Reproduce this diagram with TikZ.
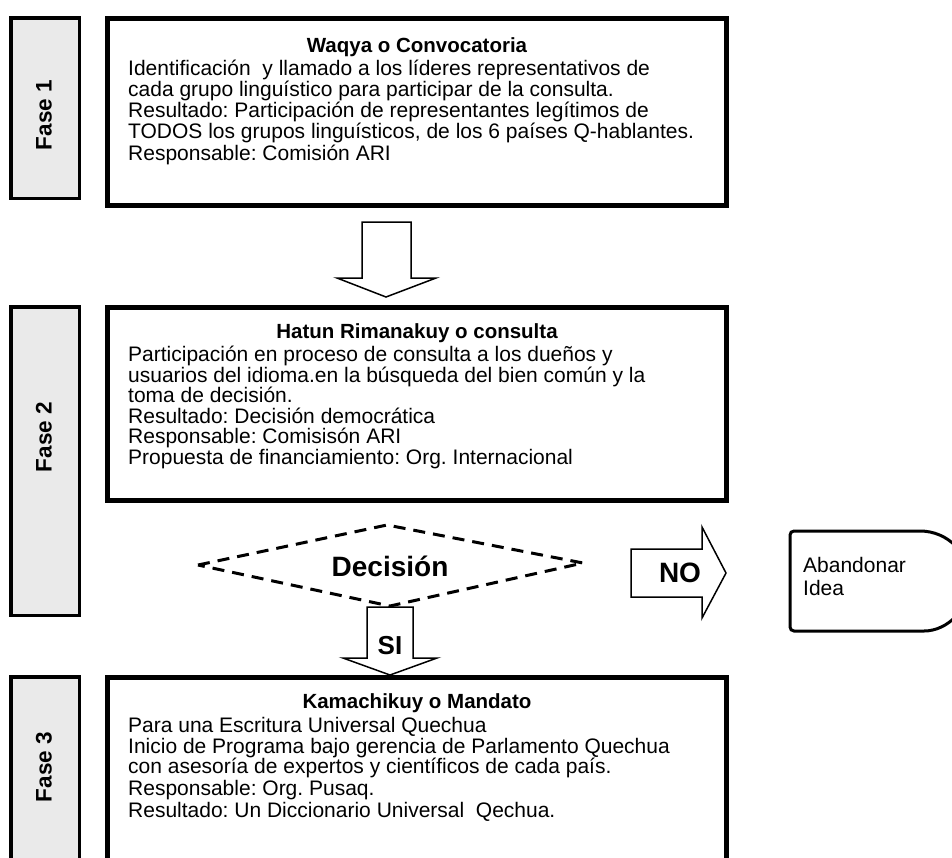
\documentclass[tikz,border=0pt]{standalone}
\usepackage{fontspec}
\setmainfont{Liberation Sans}
\definecolor{fasegray}{HTML}{EAEAEA}
\frenchspacing
\begin{document}
\begin{tikzpicture}[x=1pt,y=-1pt,
  fasebox/.style={draw=black, line width=3.5pt, fill=fasegray, inner sep=0pt},
  mainbox/.style={draw=black, line width=5pt, inner sep=0pt},
  blockarrow/.style={draw=black, line width=1.5pt, fill=white, line join=miter},
  bodytext/.style={anchor=base west, inner sep=0pt, font=\fontsize{21}{22}\selectfont},
  titletext/.style={anchor=base, inner sep=0pt, font=\fontsize{20.5}{22}\selectfont\bfseries},
  faselabel/.style={rotate=90, inner sep=0pt, font=\fontsize{22.5}{24}\selectfont\bfseries},
  bigtext/.style={inner sep=0pt, font=\fontsize{28}{30}\selectfont\bfseries},
  dashedline/.style={draw=black, line width=3pt, dash pattern=on 12pt off 8pt}]
\useasboundingbox (0,0) rectangle (952,857);
\clip (0,0) rectangle (952,857);

% Phase boxes
\node[fasebox, minimum width=68.5pt, minimum height=180.5pt] (f1box) at (45,108) {};
\node[fasebox, minimum width=68.5pt, minimum height=308.5pt] (f2box) at (45,461) {};
\node[fasebox, minimum width=68.5pt, minimum height=323pt] (f3box) at (45,838.4) {};
\node[faselabel] (f1) at (44,115) {Fase 1};
\node[faselabel] (f2) at (44,437) {Fase 2};
\node[faselabel] (f3) at (44,767) {Fase 3};

% Main boxes
\node[mainbox, minimum width=619pt, minimum height=187pt] (box1) at (417,112) {};
\node[mainbox, minimum width=619pt, minimum height=193pt] (box2) at (417,404) {};
\node[mainbox, minimum width=619pt, minimum height=322.5pt] (box3) at (417,838.75) {};

% Box 1 text
\node[titletext] (t1) at (417,52) {Waqya o Convocatoria};
\node[bodytext] (b1a) at (128,75) {Identificación\ \ y llamado a los líderes representativos de};
\node[bodytext] (b1b) at (128,96) {cada grupo linguístico para participar de la consulta.};
\node[bodytext] (b1c) at (128,117.5) {Resultado: Participación de representantes legítimos de};
\node[bodytext] (b1d) at (128,138.5) {TODOS los grupos linguísticos, de los 6 países Q-hablantes.};
\node[bodytext] (b1e) at (128,160) {Responsable: Comisión ARI};

% Box 2 text
\node[titletext] (t2) at (417,338) {Hatun Rimanakuy o consulta};
\node[bodytext] (b2a) at (128,361.5) {Participación en proceso de consulta a los dueños y};
\node[bodytext] (b2b) at (128,382) {usuarios del idioma.en la búsqueda del bien común y la};
\node[bodytext] (b2c) at (128,402.5) {toma de decisión.};
\node[bodytext] (b2d) at (128,423) {Resultado: Decisión democrática};
\node[bodytext] (b2e) at (128,443.5) {Responsable: Comisisón ARI};
\node[bodytext] (b2f) at (128,464.5) {Propuesta de financiamiento: Org. Internacional};

% Box 3 text
\node[titletext] (t3) at (417,708) {Kamachikuy o Mandato};
\node[bodytext] (b3a) at (128,732) {Para una Escritura Universal Quechua};
\node[bodytext] (b3b) at (128,753) {Inicio de Programa bajo gerencia de Parlamento Quechua};
\node[bodytext] (b3c) at (128,773.5) {con asesoría de expertos y científicos de cada país.};
\node[bodytext] (b3d) at (128,795) {Responsable: Org. Pusaq.};
\node[bodytext] (b3e) at (128,817) {Resultado: Un Diccionario Universal\ \ Qechua.};

% Block arrow box1 -> box2
\draw[blockarrow] (362,222) -- (411,222) -- (411,278) -- (436,278) -- (386,297) -- (337,278) -- (362,278) -- cycle;

% Decision diamond
\coordinate (dL) at (198,565);
\coordinate (dT) at (387,525);
\coordinate (dR) at (583,563);
\coordinate (dB) at (390,606);
\draw[dashedline] (dL) -- (dT) -- (dR) -- (dB) -- cycle;
\node[bigtext] (dec) at (390,566) {Decisión};

% SI arrow
\draw[blockarrow] (367,607) -- (413,607) -- (413,658) -- (437,658) -- (390,675) -- (343,658) -- (367,658) -- cycle;
\node[inner sep=0pt, anchor=base, font=\fontsize{26}{28}\selectfont\bfseries] (si) at (390,654) {SI};

% NO arrow
\draw[blockarrow] (631,549) -- (702,549) -- (702,527) -- (726,573) -- (702,618) -- (702,597) -- (631,597) -- cycle;
\node[bigtext] (no) at (680,573) {NO};

% Abandonar Idea (delay shape)
\draw[line width=3pt, rounded corners=4pt] (920,531) -- (790,531) -- (790,631) -- (920,631) arc[start angle=-90, end angle=90, radius=50pt];
\node[bodytext] (ab1) at (803,572) {Abandonar};
\node[bodytext] (ab2) at (803,595) {Idea};
\end{tikzpicture}
\end{document}
